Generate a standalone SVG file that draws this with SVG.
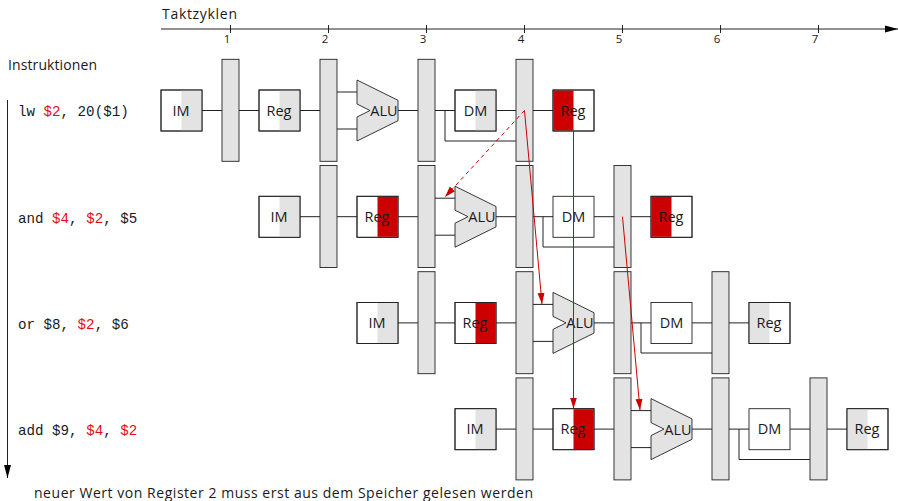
<svg xmlns="http://www.w3.org/2000/svg" width="898" height="501" viewBox="0 0 898 501">
<style>
text{font-family:"Open Sans","Lato","Liberation Sans",sans-serif;fill:#1a1a1a}
.t{font-size:14px}
.n{font-size:11.500px;text-anchor:middle}
.l{font-size:14.500px;text-anchor:middle}
.c{font-family:"Liberation Mono","DejaVu Sans Mono",monospace;font-size:14.200px}
.r{fill:#e01010}
.b{fill:#fff;stroke:#222;stroke-width:.9}
.o{fill:none;stroke:#222;stroke-width:.9}
.g{fill:#e3e3e3}
.d{fill:#cc0000}
.x{fill:#e3e3e3;stroke:#222;stroke-width:.9}
.w{fill:none;stroke:#222;stroke-width:1}
.f{fill:none;stroke:#cc0000;stroke-width:1}
</style>
<defs>
<marker id="ah" markerUnits="userSpaceOnUse" markerWidth="14" markerHeight="8" refX="13" refY="4" orient="auto"><path d="M0 .5L13 4L0 7.500Z" fill="#000"/></marker>
<marker id="rh" markerUnits="userSpaceOnUse" markerWidth="12" markerHeight="8" refX="11" refY="4" orient="auto"><path d="M0 .5L11 4L0 7.500Z" fill="#cc0000"/></marker>
<path id="alu" d="M0-30.500L41-10.200V10.200L0 30.500V6.500L13 0L0-6.500Z"/>
</defs>

<g id="connectors">
<path class="w" d="M202 110.500H222M239 110.500H259M300 110.500H320M337 92H357M337 129H357M398 110.500H418M435 110.500H455M496 110.500H516M533 110.500H553M445 110.500V141H516"/>
<path class="w" d="M300 216.700H320M337 216.700H357M398 216.700H418M435 198.200H455M435 235.200H455M496 216.700H516M533 216.700H553M594 216.700H614M631 216.700H651M543 216.700V247H614"/>
<path class="w" d="M398 322.900H418M435 322.900H455M496 322.900H516M533 304.400H553M533 341.400H553M594 322.900H614M631 322.900H651M692 322.900H712M729 322.900H749M641 322.900V353H712"/>
<path class="w" d="M496 429.100H516M533 429.100H553M594 429.100H614M631 410.600H651M631 447.600H651M692 429.100H712M729 429.100H749M790 429.100H810M827 429.100H847M739 429.100V459.500H810"/>
</g>

<g id="axis-time">
<path class="w" d="M161 29H898" marker-end="url(#ah)"/>
<path class="w" d="M230.500 25V33M328.500 25V33M426.500 25V33M524.500 25V33M622.500 25V33M720.500 25V33M818.500 25V33"/>
<text class="t" x="162" y="19" textLength="75">Taktzyklen</text>
<text class="n" x="227" y="43">1</text><text class="n" x="325" y="43">2</text><text class="n" x="423" y="43">3</text><text class="n" x="521" y="43">4</text><text class="n" x="619" y="43">5</text><text class="n" x="717" y="43">6</text><text class="n" x="815" y="43">7</text>
</g>
<g id="axis-instr">
<path class="w" d="M7.500 100V478" marker-end="url(#ah)"/>
<text class="t" x="8" y="70" textLength="89">Instruktionen</text>
</g>

<g id="row1">
<g id="r1-im"><rect class="b" x="161" y="90" width="41" height="41"/><rect class="g" x="181.500" y="90.500" width="20" height="40"/><rect class="o" x="161" y="90" width="41" height="41"/><text class="l" x="181" y="116">IM</text></g>
<rect id="r1-l1" class="x" x="222" y="59.300" width="17" height="102"/>
<g id="r1-reg"><rect class="b" x="259" y="90" width="41" height="41"/><rect class="g" x="279.500" y="90.500" width="20" height="40"/><rect class="o" x="259" y="90" width="41" height="41"/><text class="l" x="279" y="116">Reg</text></g>
<rect id="r1-l2" class="x" x="320" y="59.300" width="17" height="102"/>
<g id="r1-alu" transform="translate(357 110.500)"><use href="#alu" class="x"/><text class="l" x="27" y="5.500">ALU</text></g>
<rect id="r1-l3" class="x" x="418" y="59.300" width="17" height="102"/>
<g id="r1-dm"><rect class="b" x="455" y="90" width="41" height="41"/><rect class="g" x="475.500" y="90.500" width="20" height="40"/><rect class="o" x="455" y="90" width="41" height="41"/><text class="l" x="475.500" y="116">DM</text></g>
<rect id="r1-l4" class="x" x="516" y="59.300" width="17" height="102"/>
<g id="r1-wb"><rect class="b" x="553" y="90" width="41" height="41"/><rect class="d" x="553.500" y="90.500" width="20" height="40"/><rect class="o" x="553" y="90" width="41" height="41"/><text class="l" x="573" y="116">Reg</text></g>
<text class="c" x="18" y="116">lw <tspan class="r">$2</tspan>, 20($1)</text>
</g>

<g id="row2">
<g id="r2-im"><rect class="b" x="259" y="196.300" width="41" height="41"/><rect class="g" x="279.500" y="196.800" width="20" height="40"/><rect class="o" x="259" y="196.300" width="41" height="41"/><text class="l" x="279" y="222">IM</text></g>
<rect id="r2-l1" class="x" x="320" y="165.500" width="17" height="102"/>
<g id="r2-reg"><rect class="b" x="357" y="196.300" width="41" height="41"/><rect class="d" x="377.500" y="196.800" width="20" height="40"/><rect class="o" x="357" y="196.300" width="41" height="41"/><text class="l" x="377" y="222">Reg</text></g>
<rect id="r2-l2" class="x" x="418" y="165.500" width="17" height="102"/>
<g id="r2-alu" transform="translate(455 216.700)"><use href="#alu" class="x"/><text class="l" x="27" y="5.500">ALU</text></g>
<rect id="r2-l3" class="x" x="516" y="165.500" width="17" height="102"/>
<g id="r2-dm"><rect class="b" x="553" y="196.300" width="41" height="41"/><text class="l" x="573.500" y="222">DM</text></g>
<rect id="r2-l4" class="x" x="614" y="165.500" width="17" height="102"/>
<g id="r2-wb"><rect class="b" x="651" y="196.300" width="41" height="41"/><rect class="d" x="651.500" y="196.800" width="20" height="40"/><rect class="o" x="651" y="196.300" width="41" height="41"/><text class="l" x="671" y="222">Reg</text></g>
<text class="c" x="18" y="223">and <tspan class="r">$4</tspan>, <tspan class="r">$2</tspan>, $5</text>
</g>

<g id="row3">
<g id="r3-im"><rect class="b" x="357" y="302.500" width="41" height="41"/><rect class="g" x="377.500" y="303" width="20" height="40"/><rect class="o" x="357" y="302.500" width="41" height="41"/><text class="l" x="377" y="328">IM</text></g>
<rect id="r3-l1" class="x" x="418" y="271.700" width="17" height="102"/>
<g id="r3-reg"><rect class="b" x="455" y="302.500" width="41" height="41"/><rect class="d" x="475.500" y="303" width="20" height="40"/><rect class="o" x="455" y="302.500" width="41" height="41"/><text class="l" x="475" y="328">Reg</text></g>
<rect id="r3-l2" class="x" x="516" y="271.700" width="17" height="102"/>
<g id="r3-alu" transform="translate(553 322.900)"><use href="#alu" class="x"/><text class="l" x="27" y="5.500">ALU</text></g>
<rect id="r3-l3" class="x" x="614" y="271.700" width="17" height="102"/>
<g id="r3-dm"><rect class="b" x="651" y="302.500" width="41" height="41"/><text class="l" x="671.500" y="328">DM</text></g>
<rect id="r3-l4" class="x" x="712" y="271.700" width="17" height="102"/>
<g id="r3-wb"><rect class="b" x="749" y="302.500" width="41" height="41"/><rect class="g" x="749.500" y="303" width="20" height="40"/><rect class="o" x="749" y="302.500" width="41" height="41"/><text class="l" x="769" y="328">Reg</text></g>
<text class="c" x="18" y="329">or $8, <tspan class="r">$2</tspan>, $6</text>
</g>

<g id="row4">
<g id="r4-im"><rect class="b" x="455" y="408.700" width="41" height="41"/><rect class="g" x="475.500" y="409.200" width="20" height="40"/><rect class="o" x="455" y="408.700" width="41" height="41"/><text class="l" x="475" y="434">IM</text></g>
<rect id="r4-l1" class="x" x="516" y="377.900" width="17" height="102"/>
<g id="r4-reg"><rect class="b" x="553" y="408.700" width="41" height="41"/><rect class="d" x="573.500" y="409.200" width="20" height="40"/><rect class="o" x="553" y="408.700" width="41" height="41"/><text class="l" x="573" y="434">Reg</text></g>
<rect id="r4-l2" class="x" x="614" y="377.900" width="17" height="102"/>
<g id="r4-alu" transform="translate(651 429.100)"><use href="#alu" class="x"/><text class="l" x="27" y="5.500">ALU</text></g>
<rect id="r4-l3" class="x" x="712" y="377.900" width="17" height="102"/>
<g id="r4-dm"><rect class="b" x="749" y="408.700" width="41" height="41"/><text class="l" x="769.500" y="434">DM</text></g>
<rect id="r4-l4" class="x" x="810" y="377.900" width="17" height="102"/>
<g id="r4-wb"><rect class="b" x="847" y="408.700" width="41" height="41"/><rect class="g" x="847.500" y="409.200" width="20" height="40"/><rect class="o" x="847" y="408.700" width="41" height="41"/><text class="l" x="867" y="434">Reg</text></g>
<text class="c" x="18" y="435">add $9, <tspan class="r">$4</tspan>, <tspan class="r">$2</tspan></text>
</g>

<g id="forwarding">
<path class="f" d="M524.500 110.500L445 197" stroke-dasharray="4 3.500" marker-end="url(#rh)"/>
<path class="f" d="M524.500 110.500L542 304" marker-end="url(#rh)"/>
<path class="f" d="M573.500 131V408.500" marker-end="url(#rh)"/>
<path class="f" d="M622.500 216.700L640 410" marker-end="url(#rh)"/>
</g>
<text id="caption" class="t" x="34" y="498" textLength="499">neuer Wert von Register 2 muss erst aus dem Speicher gelesen werden</text>
</svg>
